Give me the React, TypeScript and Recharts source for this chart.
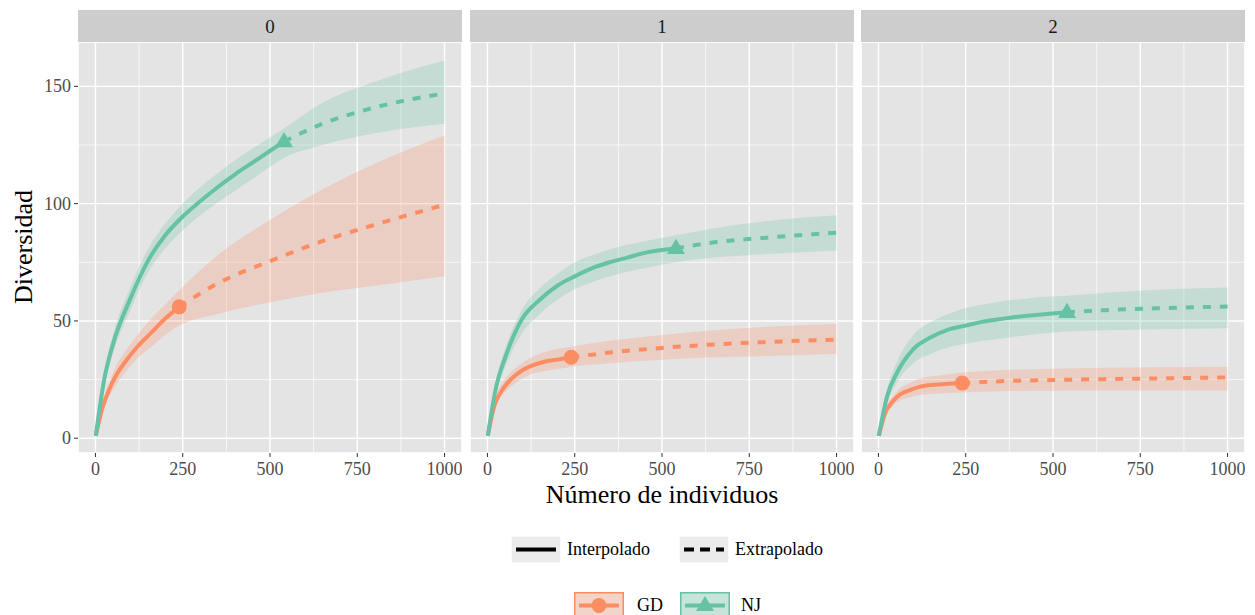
import React from 'react'
import { ComposedChart, Area, Line, Scatter, XAxis, YAxis, CartesianGrid } from 'recharts'

const panels = ['0', '1', '2']
const xTicks = [0, 250, 500, 750, 1000]
const xMinor = [125, 375, 625, 875]
const yTicks = [0, 50, 100, 150]
const yMinor = [25, 75, 125]

// sample sizes, the observed one closes the interpolated part
const gdSizes = [1, 20, 40, 60, 90, 120, 160, 200, 240, 350, 500, 650, 800, 1000]
const gdObserved = 240
const njSizes = [1, 25, 50, 100, 150, 200, 250, 300, 350, 400, 450, 540, 650, 800, 1000]
const njObserved = 540

// panel 0
const gd0 = [1, 13, 21, 27, 33.5, 39, 45, 51, 56, 66, 75.5, 84, 91, 99.5]
const gd0Lo = [1, 11, 18, 23, 29, 34, 39, 44, 48, 53, 58, 62, 65, 69]
const gd0Hi = [1, 15, 24, 31, 38, 44, 51, 57, 63, 78, 93, 106, 117, 129]
const nj0 = [1, 25, 40, 59.5, 75.5, 86.5, 94.5, 101, 107, 112.5, 117.5, 126.5, 134, 141, 147]
const nj0Lo = [1, 22, 36, 54.5, 70.5, 81, 88.5, 95, 100.5, 105.5, 110.5, 119.5, 125, 130, 134]
const nj0Hi = [1, 28, 44, 64.5, 80.5, 91.5, 100, 107, 113, 118.5, 123.5, 132, 143, 152, 161]

// panel 1
const gd1 = [1, 14, 20, 24, 28, 30.5, 32.5, 33.5, 34.5, 36.5, 38.5, 40, 41, 42]
const gd1Lo = [1, 12, 18, 21, 24.5, 27, 28.5, 29.5, 30.5, 32, 33.5, 34.5, 35, 36]
const gd1Hi = [1, 16, 23, 27, 31, 34, 36.5, 38, 39, 41.5, 44, 46, 47.5, 48.7]
const nj1 = [1, 22, 34, 51, 59, 65, 69, 72.5, 75, 77, 79, 81, 83.5, 85.5, 87.6]
const nj1Lo = [1, 19, 30, 45, 53, 59, 63.5, 66.5, 69, 71, 72.5, 75, 77, 78.5, 80]
const nj1Hi = [1, 25, 38, 55, 64, 70, 75, 78, 80.5, 82.5, 84, 86.5, 89.5, 92.5, 95]

// panel 2
const gd2 = [1, 11, 15.5, 18.5, 20.5, 22, 22.8, 23.2, 23.5, 24.3, 24.8, 25.2, 25.5, 25.9]
const gd2Lo = [1, 9.5, 13.5, 16, 17.5, 18.5, 19, 19.3, 19.5, 20, 20.2, 20.3, 20.3, 20.3]
const gd2Hi = [1, 12.5, 17.5, 21, 23.5, 25.5, 26.5, 27.3, 28, 29, 29.6, 30, 30.3, 30.5]
const nj2 = [1, 18, 27, 38, 43, 46.3, 48, 49.7, 50.8, 51.8, 52.5, 53.7, 54.6, 55.4, 56.1]
const nj2Lo = [1, 15, 23, 32, 36, 38.7, 40.3, 41.5, 42.5, 43.5, 44.3, 45.5, 46, 46.5, 46.9]
const nj2Hi = [1, 21, 31.5, 44, 49.5, 53, 55.5, 57, 58.3, 59.2, 60, 60.7, 62, 63.3, 64.3]

const GD_COLOR = '#FC8D62'
const NJ_COLOR = '#66C2A5'
const PANEL_BG = '#E4E4E4'
const STRIP_BG = '#CDCDCD'
const SERIF = '"Liberation Serif", "Times New Roman", serif'

const panelLeft = [78, 470, 861]
const PANEL_W = 384
const PANEL_TOP = 42
const PANEL_H = 411

type Row = { x: number; y: number; lo: number; hi: number }

function rows (sizes: number[], est: number[], lo: number[], hi: number[]): Row[] {
  return sizes.map((x, i) => ({ x, y: est[i], lo: lo[i], hi: hi[i] }))
}

const panelSeries = [
  [
    { color: GD_COLOR, observed: gdObserved, shape: 'circle', data: rows(gdSizes, gd0, gd0Lo, gd0Hi) },
    { color: NJ_COLOR, observed: njObserved, shape: 'triangle', data: rows(njSizes, nj0, nj0Lo, nj0Hi) }
  ],
  [
    { color: GD_COLOR, observed: gdObserved, shape: 'circle', data: rows(gdSizes, gd1, gd1Lo, gd1Hi) },
    { color: NJ_COLOR, observed: njObserved, shape: 'triangle', data: rows(njSizes, nj1, nj1Lo, nj1Hi) }
  ],
  [
    { color: GD_COLOR, observed: gdObserved, shape: 'circle', data: rows(gdSizes, gd2, gd2Lo, gd2Hi) },
    { color: NJ_COLOR, observed: njObserved, shape: 'triangle', data: rows(njSizes, nj2, nj2Lo, nj2Hi) }
  ]
]

function XTick (props: any) {
  const { x, y, payload } = props
  return (
    <text x={x} y={y} dy='0.71em' textAnchor='middle' fontSize={18} fill='#4D4D4D' fontFamily={SERIF}>
      {payload.value}
    </text>
  )
}

function YTick (props: any) {
  const { x, y, payload } = props
  return (
    <text x={x} y={y} dy='0.34em' textAnchor='end' fontSize={18} fill='#4D4D4D' fontFamily={SERIF}>
      {payload.value}
    </text>
  )
}

function CircleMark (props: any) {
  return <circle cx={props.cx} cy={props.cy} r={7.5} fill={GD_COLOR} />
}

function TriangleMark (props: any) {
  const { cx, cy } = props
  const s = 9
  return (
    <polygon
      points={`${cx},${cy - s * 1.05} ${cx - s},${cy + s * 0.65} ${cx + s},${cy + s * 0.65}`}
      fill={NJ_COLOR}
    />
  )
}

function Panel ({ index }: { index: number }) {
  const showY = index === 0
  const yWidth = showY ? 78 : 0
  const series = panelSeries[index]
  return (
    <div style={{ position: 'absolute', left: panelLeft[index] - yWidth, top: PANEL_TOP }}>
      <ComposedChart
        width={PANEL_W + yWidth}
        height={PANEL_H + 40}
        margin={{ top: 0, right: 0, bottom: 0, left: 0 }}
      >
        <CartesianGrid xAxisId='minor' yAxisId='minor' stroke='#fff' strokeWidth={0.7} fill={PANEL_BG} fillOpacity={1} />
        <CartesianGrid stroke='#fff' strokeWidth={1.4} />
        <XAxis
          dataKey='x'
          type='number'
          domain={[-50, 1050]}
          ticks={xTicks}
          axisLine={false}
          tickSize={4}
          tickMargin={5}
          tickLine={{ stroke: '#333', strokeWidth: 1 }}
          tick={<XTick />}
          height={40}
          allowDataOverflow
        />
        <XAxis xAxisId='minor' dataKey='x' type='number' domain={[-50, 1050]} ticks={xMinor} hide allowDataOverflow />
        <YAxis
          type='number'
          domain={[-6.3, 168.9]}
          ticks={yTicks}
          axisLine={false}
          tickSize={4}
          tickMargin={3}
          tickLine={{ stroke: '#333', strokeWidth: 1 }}
          tick={<YTick />}
          width={78}
          hide={!showY}
          allowDataOverflow
        />
        <YAxis yAxisId='minor' type='number' domain={[-6.3, 168.9]} ticks={yMinor} hide allowDataOverflow />
        {series.map((s, i) => (
          <Area
            key={'band' + i}
            data={s.data}
            dataKey={(d: Row) => [d.lo, d.hi]}
            type='monotone'
            stroke='none'
            fill={s.color}
            fillOpacity={0.25}
            isAnimationActive={false}
          />
        ))}
        {series.map((s, i) => (
          <Line
            key={'int' + i}
            data={s.data.filter(r => r.x <= s.observed)}
            dataKey='y'
            type='monotone'
            stroke={s.color}
            strokeWidth={4}
            dot={false}
            isAnimationActive={false}
          />
        ))}
        {series.map((s, i) => (
          <Line
            key={'ext' + i}
            data={s.data.filter(r => r.x >= s.observed)}
            dataKey='y'
            type='monotone'
            stroke={s.color}
            strokeWidth={4}
            strokeDasharray='8 9'
            dot={false}
            isAnimationActive={false}
          />
        ))}
        {series.map((s, i) => (
          <Scatter
            key={'obs' + i}
            data={s.data.filter(r => r.x === s.observed)}
            dataKey='y'
            shape={s.shape === 'circle' ? CircleMark : TriangleMark}
            isAnimationActive={false}
          />
        ))}
      </ComposedChart>
    </div>
  )
}

function LegendKey ({ children, fill, stroke }: { children: React.ReactNode; fill: string; stroke?: string }) {
  return (
    <svg width={50} height={27} style={{ display: 'block' }}>
      <rect x={0.75} y={0.75} width={48.5} height={25.5} fill={fill} stroke={stroke || 'none'} strokeWidth={1.5} />
      {children}
    </svg>
  )
}

export default function App () {
  return (
    <div
      style={{
        position: 'fixed',
        left: 0,
        top: 0,
        width: 1255,
        height: 615,
        background: '#fff',
        overflow: 'hidden',
        fontFamily: SERIF
      }}
    >
      {panels.map((label, i) => (
        <div
          key={label}
          style={{
            position: 'absolute',
            left: panelLeft[i],
            top: 10,
            width: PANEL_W,
            height: 32,
            background: STRIP_BG,
            color: '#1A1A1A',
            fontSize: 19,
            lineHeight: '34px',
            textAlign: 'center'
          }}
        >
          {label}
        </div>
      ))}
      {panels.map((label, i) => <Panel key={label} index={i} />)}
      <div
        style={{
          position: 'absolute',
          left: 24,
          top: 247,
          transform: 'translate(-50%, -50%) rotate(-90deg)',
          fontSize: 26,
          whiteSpace: 'nowrap'
        }}
      >
        Diversidad
      </div>
      <div
        style={{
          position: 'absolute',
          left: 662,
          top: 495,
          transform: 'translate(-50%, -50%)',
          fontSize: 26,
          whiteSpace: 'nowrap'
        }}
      >
        Número de individuos
      </div>
      <div style={{ position: 'absolute', left: 511, top: 536, display: 'flex', alignItems: 'center', fontSize: 18 }}>
        <LegendKey fill='#EBEBEB'>
          <line x1={5} x2={45} y1={13.5} y2={13.5} stroke='#000' strokeWidth={4} />
        </LegendKey>
        <span style={{ marginLeft: 6, marginRight: 29 }}>Interpolado</span>
        <LegendKey fill='#EBEBEB'>
          <line x1={5} x2={45} y1={13.5} y2={13.5} stroke='#000' strokeWidth={4} strokeDasharray='10 6' />
        </LegendKey>
        <span style={{ marginLeft: 6 }}>Extrapolado</span>
      </div>
      <div style={{ position: 'absolute', left: 574, top: 592, display: 'flex', alignItems: 'center', fontSize: 18 }}>
        <LegendKey fill='#F3D4C8' stroke={GD_COLOR}>
          <line x1={5} x2={45} y1={13.5} y2={13.5} stroke={GD_COLOR} strokeWidth={4} />
          <circle cx={25} cy={13.5} r={7.5} fill={GD_COLOR} />
        </LegendKey>
        <span style={{ marginLeft: 13, marginRight: 17 }}>GD</span>
        <LegendKey fill='#C6E4D9' stroke={NJ_COLOR}>
          <line x1={5} x2={45} y1={13.5} y2={13.5} stroke={NJ_COLOR} strokeWidth={4} />
          <polygon points='25,4 16,19 34,19' fill={NJ_COLOR} />
        </LegendKey>
        <span style={{ marginLeft: 11 }}>NJ</span>
      </div>
    </div>
  )
}
